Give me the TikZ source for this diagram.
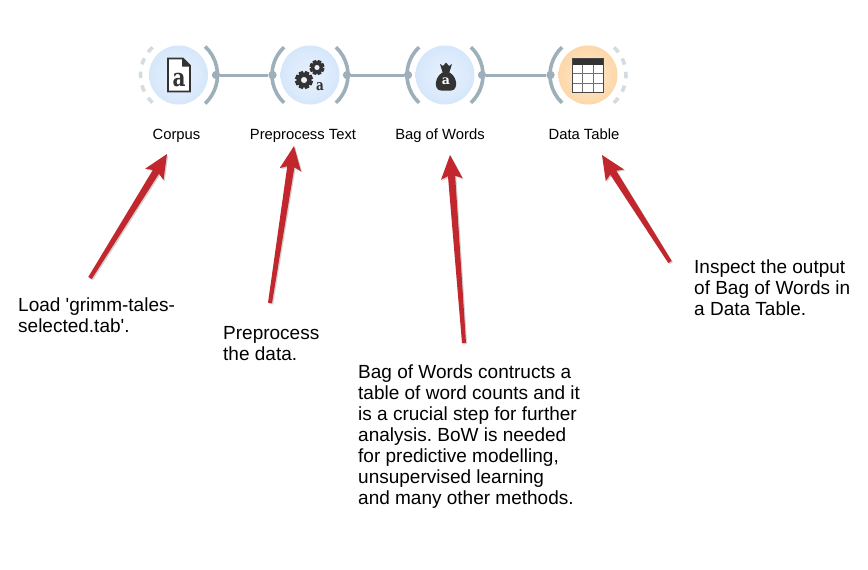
\documentclass[tikz,border=0pt]{standalone}
\usepackage{fontspec}
\setmainfont{Liberation Sans}
\newfontfamily\plainsans{Liberation Sans}
\newfontfamily\iconserif{DejaVu Serif}
\usetikzlibrary{calc}
\definecolor{linkc}{HTML}{9DB0BA}
\definecolor{dashc}{HTML}{D3DCE0}
\definecolor{bluein}{HTML}{E8F1FD}
\definecolor{blueout}{HTML}{D6E7FB}
\definecolor{orangein}{HTML}{FFECD2}
\definecolor{orangeout}{HTML}{FDD7A8}
\definecolor{arrowc}{HTML}{C1272D}
\definecolor{iconc}{HTML}{333333}
\tikzset{
 x=1pt,y=-1pt,
 wlabel/.style={font=\fontsize{14.8}{16}\selectfont,anchor=base,inner sep=0pt},
 note/.style={font=\plainsans\fontsize{19}{21}\selectfont\frenchspacing,anchor=north west,inner sep=0pt,align=left},
 link/.style={draw=linkc,line width=3pt},
 port/.style={circle,fill=linkc,minimum size=8pt,inner sep=0pt},
 chan/.style={draw=linkc,line width=3.6pt},
 dchan/.style={draw=dashc,line width=3.6pt,dash pattern=on 6.5pt off 7.4pt},
 bdisc/.style={circle,minimum size=59pt,inner sep=0pt,inner color=bluein,outer color=blueout},
 odisc/.style={circle,minimum size=59pt,inner sep=0pt,inner color=orangein,outer color=orangeout},
 icontext/.style={inner sep=0pt,text=iconc,font=\iconserif\bfseries\fontsize{#1}{#1}\selectfont},
}
\newcommand{\redarrow}[2]{%
 \path let \p1=($(#2)-(#1)$),\n1={atan2(\y1,\x1)},\n2={veclen(\x1,\y1)} in
   \pgfextra{\pgfmathsetmacro\arrang{\n1}\pgfmathsetmacro\arrlen{\n2}\global\let\arrang\arrang\global\let\arrlen\arrlen};
 \fill[black,opacity=.18,shift={(#1)},xshift=1.2pt,yshift=-1.2pt,rotate=\arrang,x=1pt,y=1pt]
   (0,-2)--(\arrlen-21,-3.6)--(\arrlen-24,-10.8)--(\arrlen,0)--(\arrlen-24,10.8)--(\arrlen-21,3.6)--(0,2)--cycle;
 \fill[arrowc,shift={(#1)},rotate=\arrang,x=1pt,y=1pt]
   (0,-2)--(\arrlen-21,-3.6)--(\arrlen-24,-10.8)--(\arrlen,0)--(\arrlen-24,10.8)--(\arrlen-21,3.6)--(0,2)--cycle;
}
\newcommand{\gearicon}[3]{% centre, radius, disc colour
 \begin{scope}[shift={(#1)},x=1pt,y=1pt]
  \foreach \a in {0,45,...,315}
    \fill[iconc,rotate=\a+22.5] (#2*.62,-#2*.3) -- (#2,-#2*.24) -- (#2,#2*.24) -- (#2*.62,#2*.3) -- cycle;
  \fill[iconc] (0,0) circle[radius=#2*.76];
  \fill[#3] (0,0) circle[radius=#2*.34];
 \end{scope}
}
\begin{document}
\begin{tikzpicture}
\useasboundingbox (0,0) rectangle (868,570);
\fill[white] (0,0) rectangle (868,570);
% links
\node[port] (p1o) at (216,75) {};
\node[port] (p2i) at (272.5,75) {};
\node[port] (p2o) at (347,75) {};
\node[port] (p3i) at (408,75) {};
\node[port] (p3o) at (482,75) {};
\node[port] (p4i) at (550.5,75) {};
\draw[link] (p1o) -- (p2i);
\draw[link] (p2o) -- (p3i);
\draw[link] (p3o) -- (p4i);
% discs
\node[bdisc] (corpus) at (178.5,75) {};
\node[bdisc] (prep) at (310,75) {};
\node[bdisc] (bow) at (445,75) {};
\node[odisc] (table) at (588,75) {};
% channels
\begin{scope}[y=1pt]
\draw[dchan,shift={(corpus)}] (133:38pt) arc[start angle=133,end angle=227,radius=38pt];
\draw[chan,shift={(corpus)}] (-47:39pt) arc[start angle=-47,end angle=47,radius=39pt];
\draw[chan,shift={(prep)}] (133:38pt) arc[start angle=133,end angle=227,radius=38pt];
\draw[chan,shift={(prep)}] (-47:38pt) arc[start angle=-47,end angle=47,radius=38pt];
\draw[chan,shift={(bow)}] (133:38pt) arc[start angle=133,end angle=227,radius=38pt];
\draw[chan,shift={(bow)}] (-47:38pt) arc[start angle=-47,end angle=47,radius=38pt];
\draw[chan,shift={(table)}] (133:38pt) arc[start angle=133,end angle=227,radius=38pt];
\draw[dchan,shift={(table)}] (-47:38pt) arc[start angle=-47,end angle=47,radius=38pt];
\end{scope}
\node[port] at (p1o) {};
\node[port] at (p2i) {};
\node[port] at (p2o) {};
\node[port] at (p3i) {};
\node[port] at (p3o) {};
\node[port] at (p4i) {};
% document icon
\draw[iconc,line width=1.6pt,fill=white,line join=miter] (168,58.5) -- (183,58.5) -- (190,65.5) -- (190,91.5) -- (168,91.5) -- cycle;
\fill[iconc] (182,58) -- (190.5,66.5) -- (182,66.5) -- cycle;
\node[icontext=25,xscale=.8,transform shape] (doca) at (179,80.5) {a};
% gears icon
\gearicon{304,80}{9}{bluein}
\gearicon{317,67.5}{7.5}{bluein}
\node[icontext=15,xscale=.8,transform shape] (geara) at (320,86.5) {a};
% bag icon
\fill[iconc] (446,71) .. controls (434,74) and (433,90.5) .. (441,90.5) -- (451,90.5) .. controls (459,90.5) and (458,74) .. (446,71) -- cycle;
\fill[iconc] (442.5,72) -- (440,64) -- (443,66) -- (446,62.5) -- (449,66) -- (452,64) -- (449.5,72) -- cycle;
\node[inner sep=0pt,text=white,font=\iconserif\bfseries\fontsize{12.5}{13}\selectfont] (baga) at (446,81.5) {a};
% table icon
\fill[white] (572,58) rectangle (604,93);
\foreach \tx in {582.5,593.5} \draw[iconc!70,line width=1pt] (\tx,64) -- (\tx,92);
\foreach \ty in {73.5,83} \draw[iconc!70,line width=1pt] (572,\ty) -- (604,\ty);
\fill[iconc] (572,58) rectangle (604,64.5);
\draw[iconc!90,line width=1.5pt] (572.5,58.5) rectangle (603.5,92.5);
% labels
\node[wlabel] (lcorpus) at (176.5,139.5) {Corpus};
\node[wlabel] (lprep) at (303,139.5) {Preprocess Text};
\node[wlabel] (lbow) at (440,139.5) {Bag of Words};
\node[wlabel] (ltable) at (584,139.5) {Data Table};
% notes
\node[note] (n1) at (18,298) {Load 'grimm-tales-\\selected.tab'.};
\node[note] (n2) at (223,326) {Preprocess\\the data.};
\node[note] (n3) at (358,365) {Bag of Words contructs a\\table of word counts and it\\is a crucial step for further\\analysis. BoW is needed\\for predictive modelling,\\unsupervised learning\\and many other methods.};
\node[note] (n4) at (694,260) {Inspect the output\\of Bag of Words in\\a Data Table.};
% arrows
\coordinate (a1s) at (90,278); \coordinate (a1t) at (167,154);
\coordinate (a2s) at (270,303); \coordinate (a2t) at (294,146);
\coordinate (a3s) at (464,343); \coordinate (a3t) at (450,155);
\coordinate (a4s) at (670,262); \coordinate (a4t) at (602,155);
\redarrow{a1s}{a1t}
\redarrow{a2s}{a2t}
\redarrow{a3s}{a3t}
\redarrow{a4s}{a4t}
\end{tikzpicture}
\end{document}
